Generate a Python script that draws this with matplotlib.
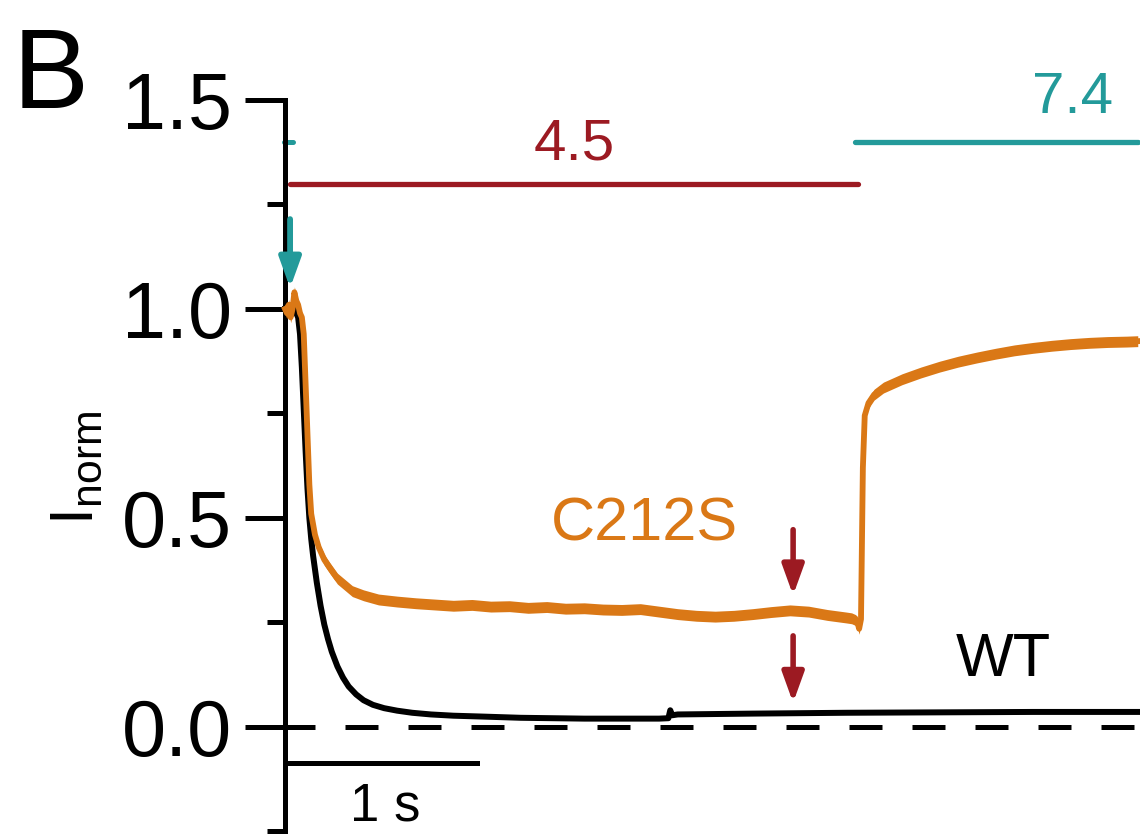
import numpy as np
import matplotlib
matplotlib.use("Agg")
import matplotlib.pyplot as plt

plt.rcParams['font.family'] = ['Liberation Sans', 'DejaVu Sans']
plt.rcParams['mathtext.fontset'] = 'custom'
plt.rcParams['mathtext.rm'] = 'Liberation Sans'

# C212S trace (time in s, normalised current)
c212s_t = [0.00, 0.01, 0.02, 0.03, 0.04, 0.05, 0.06, 0.07, 0.08, 0.09, 0.10, 0.11,
           0.12, 0.13, 0.14, 0.16, 0.18, 0.21, 0.24, 0.28, 0.32, 0.36, 0.42, 0.50,
           0.60, 0.70, 0.80, 0.90, 1.00, 1.10, 1.20, 1.30, 1.40, 1.50, 1.60, 1.70,
           1.80, 1.90, 2.00, 2.10, 2.20, 2.30, 2.40, 2.50, 2.60, 2.70, 2.80, 2.90,
           3.00, 3.03, 3.05, 3.06, 3.07, 3.08, 3.09, 3.10, 3.12, 3.15, 3.20, 3.25,
           3.30, 3.40, 3.50, 3.60, 3.70, 3.80, 3.90, 4.00, 4.10, 4.20, 4.30, 4.40,
           4.50, 4.56]
c212s_i = [1.00, 0.99, 1.01, 0.98, 1.00, 1.04, 1.02, 1.01, 0.99, 0.98, 0.94, 0.82,
           0.70, 0.58, 0.51, 0.46, 0.43, 0.40, 0.38, 0.355, 0.34, 0.325, 0.315, 0.305,
           0.300, 0.296, 0.293, 0.290, 0.292, 0.288, 0.289, 0.285, 0.287, 0.283, 0.284, 0.281,
           0.280, 0.282, 0.276, 0.270, 0.266, 0.264, 0.266, 0.270, 0.275, 0.279, 0.276, 0.268,
           0.262, 0.260, 0.256, 0.252, 0.235, 0.258, 0.62, 0.745, 0.775, 0.795, 0.812, 0.822,
           0.832, 0.848, 0.862, 0.874, 0.884, 0.893, 0.901, 0.907, 0.912, 0.916, 0.919, 0.921,
           0.922, 0.923]

# WT trace
wt_t = [0.00, 0.05, 0.07, 0.08, 0.09, 0.10, 0.11, 0.12, 0.13, 0.14, 0.15, 0.17,
        0.19, 0.21, 0.23, 0.25, 0.28, 0.31, 0.34, 0.38, 0.42, 0.47, 0.53, 0.60,
        0.68, 0.78, 0.90, 1.05, 1.26, 1.60, 2.00, 2.05, 2.06, 2.07, 2.10,
        2.50, 3.00, 3.50, 4.00, 4.56]
wt_i = [1.00, 1.00, 0.98, 0.94, 0.86, 0.76, 0.66, 0.57, 0.50, 0.45, 0.41, 0.345,
        0.29, 0.245, 0.21, 0.18, 0.145, 0.118, 0.097, 0.078, 0.064, 0.053, 0.045, 0.039,
        0.034, 0.030, 0.027, 0.025, 0.022, 0.020, 0.020, 0.021, 0.040, 0.028, 0.030,
        0.032, 0.034, 0.035, 0.036, 0.036]

# solution exchange bars
ph_labels = ['4.5', '7.4']
ph_start = [0.027, 3.048]
ph_end = [3.064, 4.561]
ph_level = [1.30, 1.40]

scale_bar = [0.027, 1.027]

orange = '#DA7816'
darkred = '#9C1A22'
teal = '#239A9A'

fig = plt.figure(figsize=(11.47, 8.36), dpi=100)
ax = fig.add_axes([0.2084, 0.0054, 0.7855, 0.925])
ax.set_xlim(-0.246, 4.572)
ax.set_ylim(-0.25, 1.6)

# zero baseline
ax.plot([-0.016, 4.56], [0, 0], color='black', lw=3.6,
        linestyle=(0, (6.6, 6.0)), solid_capstyle='butt', zorder=1)

# traces
ax.plot(wt_t, wt_i, color='black', lw=4.3, zorder=2, solid_joinstyle='round')
ax.fill_between(c212s_t, np.array(c212s_i) - 0.013, np.array(c212s_i) + 0.013,
                color=orange, lw=0, zorder=3)
ax.plot(c212s_t, c212s_i, color=orange, lw=4.2, zorder=3, solid_joinstyle='round')

# pH bars
ax.plot([ph_start[0], ph_end[0]], [ph_level[0]] * 2, color=darkred, lw=3.8,
        solid_capstyle='round')
ax.plot([ph_start[1], ph_end[1]], [ph_level[1]] * 2, color=teal, lw=3.8,
        solid_capstyle='round')
ax.plot([-0.008, 0.045], [ph_level[1]] * 2, color=teal, lw=3.6,
        solid_capstyle='round')
ax.text((ph_start[0] + ph_end[0]) / 2, 1.33, ph_labels[0], color=darkred,
        fontsize=42, ha='center', va='bottom')
ax.text(4.21, 1.44, ph_labels[1], color=teal, fontsize=42, ha='center',
        va='bottom', clip_on=False)

# arrows
arrow_style = '-|>,head_length=1.8,head_width=0.65'
ax.annotate('', xy=(0.027, 1.05), xytext=(0.027, 1.215),
            arrowprops=dict(arrowstyle=arrow_style, color=teal, lw=4.2,
                            shrinkA=0, shrinkB=0), annotation_clip=False)
for y0, y1 in [(0.472, 0.315), (0.218, 0.058)]:
    ax.annotate('', xy=(2.717, y1), xytext=(2.717, y0),
                arrowprops=dict(arrowstyle=arrow_style, color=darkred, lw=4,
                                shrinkA=0, shrinkB=0))

# trace labels
ax.text(1.92, 0.415, 'C212S', color=orange, fontsize=44, ha='center', va='bottom')
ax.text(3.84, 0.09, 'WT', color='black', fontsize=44, ha='center', va='bottom')

# time scale bar
ax.plot(scale_bar, [-0.086, -0.086], color='black', lw=3.6)
ax.text(0.535, -0.13, '1 s', fontsize=38, ha='center', va='top')

# y axis
for s in ['top', 'right', 'bottom']:
    ax.spines[s].set_visible(False)
ax.spines['left'].set_position(('data', 0))
ax.spines['left'].set_bounds(-0.25, 1.5)
ax.spines['left'].set_linewidth(3.6)
ax.set_xticks([])
ax.set_yticks([0, 0.5, 1.0, 1.5])
ax.set_yticklabels(['0.0', '0.5', '1.0', '1.5'])
ax.set_yticks([-0.25, 0.25, 0.75, 1.25], minor=True)
ax.tick_params(axis='y', which='major', length=29, width=3.6, labelsize=57, pad=9)
ax.tick_params(axis='y', which='minor', length=13, width=3.6)

fig.text(0.068, 0.44, r'I$_{\mathrm{norm}}$', fontsize=44, rotation=90,
         ha='center', va='center')
fig.text(0.011, 0.871, 'B', fontsize=82, ha='left', va='baseline')

fig.savefig('out.png', dpi=100)
